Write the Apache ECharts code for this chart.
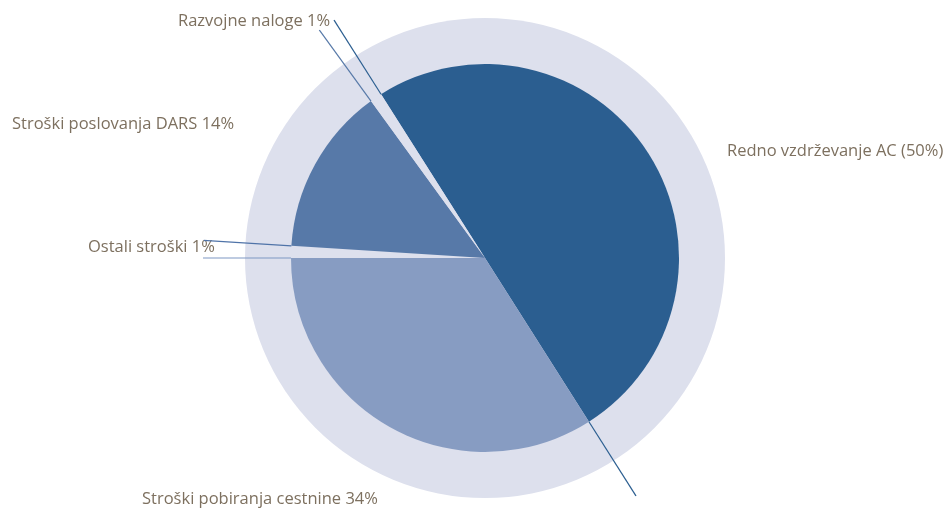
<!DOCTYPE html>
<html>
<head>
<meta charset="utf-8">
<script src="https://cdn.jsdelivr.net/npm/echarts@6/dist/echarts.min.js"></script>
<style>
  html, body { margin: 0; padding: 0; background: #fff; }
  #chart { width: 951px; height: 511px; }
</style>
</head>
<body>
<div id="chart"></div>
<script>
// podatki (v smeri urinega kazalca od začetnega kota)
const categories = [
  "Redno vzdrževanje AC (50%)",
  "Stroški pobiranja cestnine 34%",
  "Ostali stroški 1%",
  "Stroški poslovanja DARS 14%",
  "Razvojne naloge 1%"
];
const values = [50, 34, 1, 14, 1];

const sliceColors = ["#2b5e90", "#879cc2", "#dde0ed", "#5779a8", "#dde0ed"];
// barva črte na meji za vsakim izsekom
const edgeColors = ["#2b5e90", "#7f97c4", "#4f73a8", "#5779a8", "#2b5e90"];
// mesta napisov (levi rob, sredina višine)
const labelPos = [
  [727, 151],
  [142, 499],
  [88, 247],
  [12, 124],
  [178, 21]
];

const CX = 485, CY = 258;
const R_PIE = 194, R_RING = 240, R_LINE = 282;
const START = 122.4;

const total = values.reduce((a, b) => a + b, 0);
let acc = 0;
const edges = values.map((v) => (acc += v));

const chart = echarts.init(document.getElementById("chart"));

const lineSeries = edges.map((e, i) => ({
  type: "line",
  coordinateSystem: "polar",
  data: [[R_PIE, e], [R_LINE, e]],
  symbol: "none",
  silent: true,
  z: 5,
  lineStyle: { color: edgeColors[i], width: 1.2 }
}));

const option = {
  animation: false,
  polar: { center: [CX, CY], radius: R_LINE },
  radiusAxis: { min: 0, max: R_LINE, show: false },
  angleAxis: { min: 0, max: total, startAngle: START, clockwise: true, show: false },
  series: [
    {
      type: "pie",
      center: [CX, CY],
      radius: [0, R_RING],
      silent: true,
      label: { show: false },
      labelLine: { show: false },
      itemStyle: { color: "#dde0ed" },
      data: [1],
      z: 1
    },
    {
      type: "pie",
      center: [CX, CY],
      radius: [0, R_PIE],
      startAngle: START,
      clockwise: true,
      silent: true,
      z: 2,
      data: categories.map((c, i) => ({
        name: c,
        value: values[i],
        itemStyle: { color: sliceColors[i] }
      })),
      label: {
        show: true,
        formatter: "{b}",
        color: "#7d705f",
        fontFamily: "Open Sans",
        fontSize: 16.5
      },
      labelLine: { show: false },
      labelLayout: (p) => ({
        x: labelPos[p.dataIndex][0],
        y: labelPos[p.dataIndex][1],
        align: "left",
        verticalAlign: "middle",
        hideOverlap: false,
        moveOverlap: null
      })
    },
    ...lineSeries
  ]
};

chart.setOption(option);
</script>
</body>
</html>
